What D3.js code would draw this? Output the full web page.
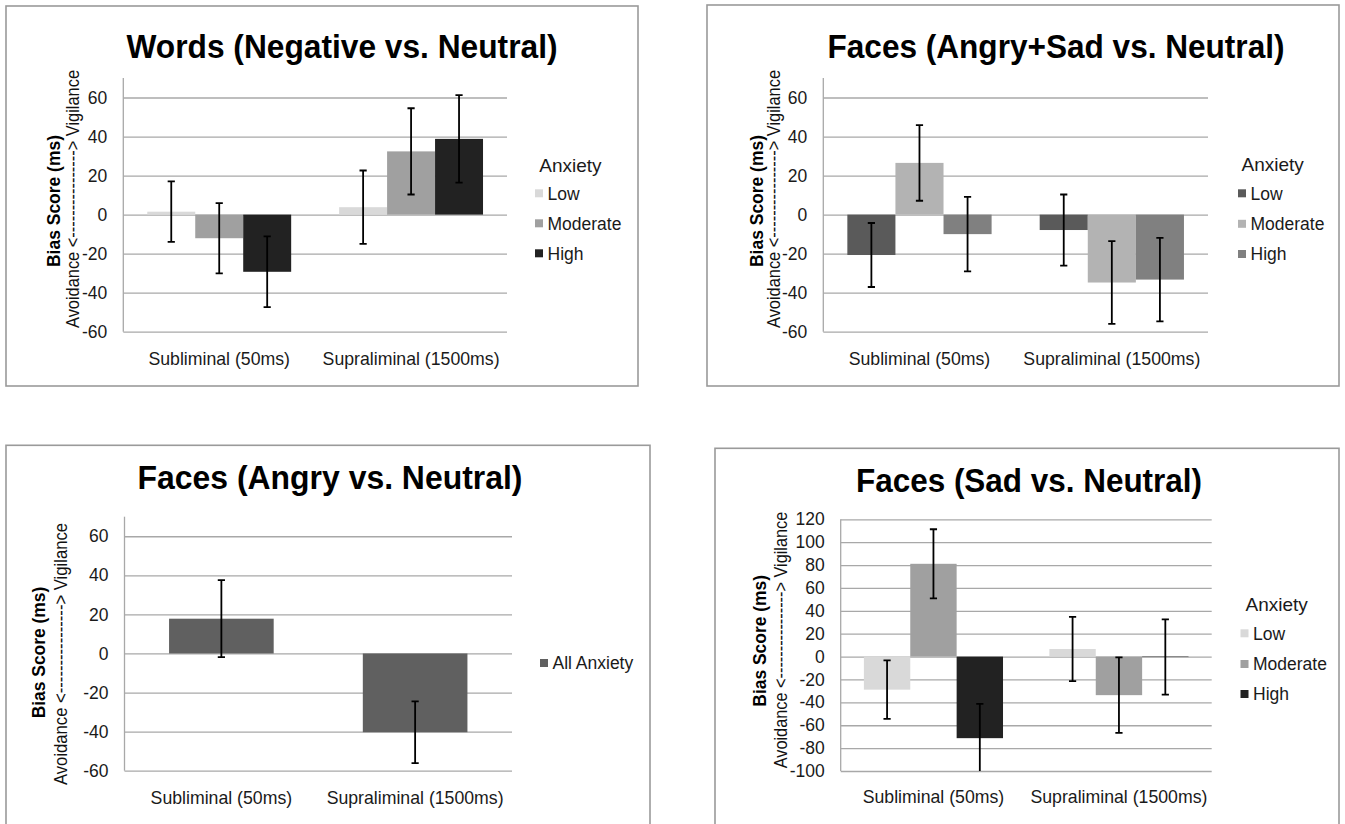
<!DOCTYPE html>
<html><head><meta charset="utf-8">
<script src="https://cdn.jsdelivr.net/npm/d3@7"></script>
<style>
body{margin:0;background:#fff}
svg{display:block}
text{font-family:"Liberation Sans",Arial,Helvetica,sans-serif}
</style>
</head><body>
<svg id="chart" width="1345" height="824"></svg>
<script>
// ---------------- data ----------------
const categories = ["Subliminal (50ms)", "Supraliminal (1500ms)"];
const anxietyLevels = ["Low", "Moderate", "High"];
const allAnxiety = ["All Anxiety"];
const ticksStandard = [-60, -40, -20, 0, 20, 40, 60];
const ticksSad = [-100, -80, -60, -40, -20, 0, 20, 40, 60, 80, 100, 120];

// [category][anxiety level]
const wordsValues = [[1.5, -12.1, -29.3], [3.8, 32.4, 38.8]];
const wordsErrors = [[15.5, 18.0, 18.1], [18.8, 22.1, 22.4]];

const angrySadValues = [[-20.7, 26.5, -10.0], [-7.9, -34.8, -33.3]];
const angrySadErrors = [[16.4, 19.4, 19.1], [18.2, 21.2, 21.4]];

const angryValues = [17.8, -40.3];
const angryErrors = [19.7, 15.8];

const sadValues = [[-28.9, 81.1, -71.3], [6.6, -33.7, -0.4]];
const sadErrors = [[25.6, 30.2, 30.0], [28.1, 33.0, 32.9]];

const titles = [
  "Words (Negative vs. Neutral)",
  "Faces (Angry+Sad vs. Neutral)",
  "Faces (Angry vs. Neutral)",
  "Faces (Sad vs. Neutral)"
];
const yLabelBold = "Bias Score (ms)";
const yLabelRegular = "Avoidance <----------------> Vigilance";
const legendTitle = "Anxiety";

const paletteLight = ["#d9d9d9", "#a0a0a0", "#222222"];
const paletteDark = ["#5a5a5a", "#b3b3b3", "#808080"];
const paletteSingle = ["#606060"];

// ---------------- layout ----------------
const panels = [
  { title: titles[0], series: anxietyLevels, values: wordsValues, errors: wordsErrors, colors: paletteLight,
    box: [6, 6, 638, 386], titleX: 342, titleY: 57.5, titleLen: 431,
    left: 123.3, right: 507, top: 78, bottom: 331.7, domain: [-60, 70], ticks: ticksStandard,
    catY: 365, yl: { bx: 59.5, by: 201, blen: 132, rx: 79, ry: 199, rlen: 258 },
    legend: { title: true, tx: 539.3, ty: 171.7, sx: 535, rows: [193.3, 223.3, 253.3] }, inner: [0.125, 0.875] },
  { title: titles[1], series: anxietyLevels, values: angrySadValues, errors: angrySadErrors, colors: paletteDark,
    box: [707, 5, 1339, 386], titleX: 1056, titleY: 57.5, titleLen: 457,
    left: 823.3, right: 1208, top: 78, bottom: 331.7, domain: [-60, 70], ticks: ticksStandard,
    catY: 365, yl: { bx: 762.5, by: 201, blen: 132, rx: 779.5, ry: 199, rlen: 258 },
    legend: { title: true, tx: 1241.5, ty: 170.7, sx: 1238, rows: [193.3, 223.8, 254] }, inner: [0.125, 0.875] },
  { title: titles[2], series: allAnxiety, values: angryValues.map(v => [v]), errors: angryErrors.map(e => [e]), colors: paletteSingle,
    box: [6, 445.3, 650, 900], titleX: 330, titleY: 488.5, titleLen: 385,
    left: 124.5, right: 512, top: 516.7, bottom: 770.7, domain: [-60, 70], ticks: ticksStandard,
    catY: 804, yl: { bx: 45, by: 652.5, blen: 131.6, rx: 66.5, ry: 654, rlen: 262 },
    legend: { title: false, tx: 0, ty: 0, sx: 540, rows: [663] }, inner: [0.23, 0.77] },
  { title: titles[3], series: anxietyLevels, values: sadValues, errors: sadErrors, colors: paletteLight,
    box: [715, 448.3, 1339, 900], titleX: 1029, titleY: 491.5, titleLen: 346,
    left: 840.7, right: 1211.7, top: 519.3, bottom: 771, domain: [-100, 120], ticks: ticksSad,
    catY: 803, yl: { bx: 766, by: 640.8, blen: 131.7, rx: 786.5, ry: 640, rlen: 256.6 },
    legend: { title: true, tx: 1245.5, ty: 610.7, sx: 1240.5, rows: [633.3, 664, 694] }, inner: [0.125, 0.875] }
];

const svg = d3.select("#chart");
svg.append("rect").attr("width", 1345).attr("height", 824).attr("fill", "#fff");

panels.forEach((p, pi) => {
  const g = svg.append("g");
  // border
  g.append("rect")
    .attr("x", p.box[0]).attr("y", p.box[1])
    .attr("width", p.box[2] - p.box[0]).attr("height", p.box[3] - p.box[1])
    .attr("fill", "none").attr("stroke", "#9a9a9a").attr("stroke-width", 1.6);

  // title
  g.append("text")
    .attr("x", p.titleX).attr("y", p.titleY)
    .attr("text-anchor", "middle")
    .attr("font-size", 34).attr("font-weight", "bold").attr("fill", "#000")
    .attr("textLength", p.titleLen).attr("lengthAdjust", "spacingAndGlyphs")
    .text(p.title);

  const y = d3.scaleLinear().domain(p.domain).range([p.bottom, p.top]);
  const x = d3.scaleBand().domain(categories).range([p.left, p.right]).padding(0);
  const bw = x.bandwidth();
  const xs = d3.scaleBand().domain(p.series).range([bw * p.inner[0], bw * p.inner[1]]).padding(0);

  // gridlines + tick labels
  const ax = g.append("g")
    .attr("transform", `translate(${p.left},0)`)
    .call(d3.axisLeft(y).tickValues(p.ticks)
      .tickSizeInner(-(p.right - p.left)).tickSizeOuter(0).tickPadding(16)
      .tickFormat(d => String(d)));
  ax.select(".domain").remove();
  ax.selectAll(".tick line").attr("stroke", "#a8a8a8").attr("stroke-width", 1.3);
  ax.selectAll(".tick text").attr("font-size", 17.5).attr("fill", "#1a1a1a")
    .attr("font-family", "\"Liberation Sans\",Arial,sans-serif");

  // vertical axis line
  g.append("line")
    .attr("x1", p.left).attr("x2", p.left)
    .attr("y1", y(p.domain[1])).attr("y2", y(p.domain[0]))
    .attr("stroke", "#a8a8a8").attr("stroke-width", 1.3);

  // bars
  const rows = [];
  categories.forEach((c, ci) => {
    p.series.forEach((s, si) => {
      rows.push({ c, s, si, v: p.values[ci][si], e: p.errors[ci][si] });
    });
  });

  g.append("g").selectAll("rect").data(rows).join("rect")
    .attr("x", d => x(d.c) + xs(d.s))
    .attr("width", xs.bandwidth())
    .attr("y", d => y(Math.max(0, d.v)))
    .attr("height", d => Math.abs(y(d.v) - y(0)))
    .attr("fill", d => p.colors[d.si]);

  // error bars (clipped to plot area)
  const clipId = "clip" + pi;
  g.append("clipPath").attr("id", clipId).append("rect")
    .attr("x", p.left - 20).attr("y", y(p.domain[1]))
    .attr("width", p.right - p.left + 40).attr("height", y(p.domain[0]) - y(p.domain[1]));
  const eg = g.append("g").attr("clip-path", `url(#${clipId})`)
    .attr("stroke", "#000").attr("stroke-width", 1.8).attr("fill", "none");
  const cap = 3.6;
  rows.forEach(d => {
    const cx = x(d.c) + xs(d.s) + xs.bandwidth() / 2;
    const y1 = y(d.v + d.e), y2 = y(d.v - d.e);
    eg.append("line").attr("x1", cx).attr("x2", cx).attr("y1", y1).attr("y2", y2);
    eg.append("line").attr("x1", cx - cap).attr("x2", cx + cap).attr("y1", y1).attr("y2", y1);
    eg.append("line").attr("x1", cx - cap).attr("x2", cx + cap).attr("y1", y2).attr("y2", y2);
  });

  // category labels
  g.append("g").selectAll("text").data(categories).join("text")
    .attr("x", c => x(c) + bw / 2).attr("y", p.catY)
    .attr("text-anchor", "middle").attr("font-size", 17.7).attr("fill", "#1a1a1a")
    .text(c => c);

  // y-axis titles
  g.append("text")
    .attr("transform", `translate(${p.yl.bx},${p.yl.by}) rotate(-90)`)
    .attr("text-anchor", "middle").attr("font-size", 17.5).attr("font-weight", "bold").attr("fill", "#000")
    .attr("textLength", p.yl.blen).attr("lengthAdjust", "spacingAndGlyphs")
    .text(yLabelBold);
  g.append("text")
    .attr("transform", `translate(${p.yl.rx},${p.yl.ry}) rotate(-90)`)
    .attr("text-anchor", "middle").attr("font-size", 17.5).attr("fill", "#111")
    .attr("textLength", p.yl.rlen).attr("lengthAdjust", "spacingAndGlyphs")
    .text(yLabelRegular);

  // legend
  const L = p.legend;
  if (L.title) {
    g.append("text").attr("x", L.tx).attr("y", L.ty)
      .attr("font-size", 19).attr("fill", "#1a1a1a").text(legendTitle);
  }
  p.series.forEach((s, si) => {
    const cy = L.rows[si];
    g.append("rect").attr("x", L.sx).attr("y", cy - 4).attr("width", 8).attr("height", 8)
      .attr("fill", p.colors[si]);
    g.append("text").attr("x", L.sx + 12.5).attr("y", cy + 6.2)
      .attr("font-size", 17.5).attr("fill", "#1a1a1a").text(s);
  });
});
</script>
</body></html>
